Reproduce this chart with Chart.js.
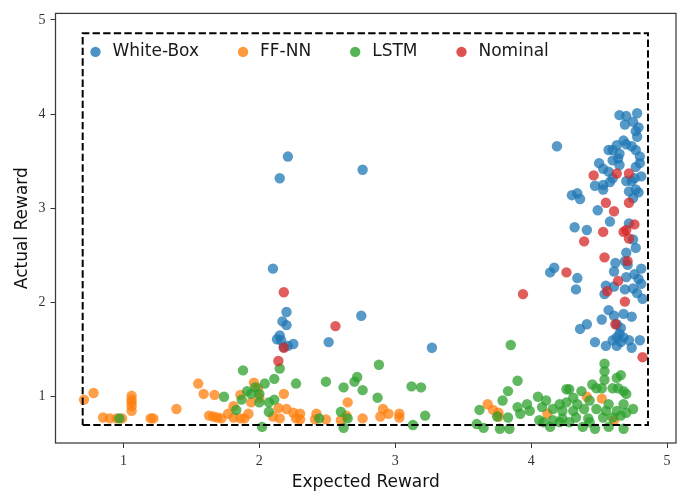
<!DOCTYPE html>
<html><head><meta charset="utf-8">
<script src="https://cdn.jsdelivr.net/npm/chart.js@4.4.1/dist/chart.umd.min.js"></script>
<style>html,body{margin:0;padding:0;background:#fff}#wrap{width:694px;height:495px}</style>
</head><body><div id="wrap"><canvas id="c" width="694" height="495"></canvas></div>
<script>
// ---- data (Expected Reward, Actual Reward) ----
const seriesNames = ['White-Box', 'FF-NN', 'LSTM', 'Nominal'];
const xTickValues = [1, 2, 3, 4, 5];
const yTickValues = [1, 2, 3, 4, 5];
const regionBounds = [0.70, 4.86];

const whiteBox = [
[2.21,3.55],[2.15,3.32],[2.10,2.36],[2.20,1.90],[2.17,1.80],[2.20,1.76],[2.15,1.65],[2.13,1.61],[2.16,1.60],[2.21,1.54],[2.25,1.56],[2.18,1.53],
[2.76,3.41],[2.51,1.58],[3.27,1.52],[2.75,1.86],[4.19,3.66],[4.14,2.32],[4.17,2.37],
[4.65,3.99],[4.70,3.98],[4.78,4.01],[4.69,3.89],[4.75,3.92],[4.77,3.82],[4.79,3.86],[4.78,3.76],[4.68,3.72],[4.70,3.68],[4.63,3.67],[4.60,3.62],[4.57,3.62],[4.74,3.66],[4.77,3.62],[4.65,3.58],[4.64,3.53],[4.60,3.51],[4.80,3.55],[4.80,3.48],[4.77,3.44],[4.50,3.48],[4.53,3.42],[4.57,3.39],[4.65,3.46],[4.60,3.32],[4.58,3.28],[4.53,3.25],[4.47,3.24],[4.53,3.20],[4.70,3.29],[4.74,3.29],[4.76,3.32],[4.81,3.34],[4.77,3.20],[4.79,3.17],[4.72,3.18],[4.75,3.11],[4.30,3.14],[4.34,3.16],[4.36,3.10],[4.49,2.98],[4.58,2.86],[4.32,2.80],[4.41,2.77],[4.72,2.84],
[4.75,2.67],[4.77,2.58],[4.70,2.53],[4.69,2.44],[4.62,2.42],[4.61,2.33],[4.71,2.40],[4.81,2.36],[4.76,2.30],[4.79,2.25],[4.81,2.20],[4.70,2.27],[4.34,2.26],[4.33,2.14],[4.55,2.18],[4.61,2.17],[4.69,2.14],[4.75,2.15],[4.78,2.10],[4.82,2.04],[4.54,2.09],[4.57,1.92],[4.61,1.86],[4.68,1.88],[4.74,1.85],[4.52,1.82],[4.41,1.77],[4.36,1.72],[4.63,1.77],[4.66,1.73],[4.65,1.67],[4.68,1.63],[4.63,1.63],[4.60,1.60],[4.66,1.58],[4.72,1.60],[4.80,1.60],[4.47,1.58],[4.55,1.54],[4.63,1.54],[4.74,1.52]
];

const ffnn = [
[0.71,0.97],[0.78,1.04],[0.85,0.78],[0.90,0.77],[0.95,0.77],[0.99,0.77],[1.06,1.01],[1.06,0.97],[1.06,0.94],[1.06,0.90],[1.06,0.85],[1.20,0.77],[1.22,0.77],[1.39,0.87],[1.55,1.14],[1.59,1.03],[1.67,1.02],[1.63,0.80],[1.66,0.79],[1.69,0.78],[1.72,0.77],[1.77,0.82],[1.81,0.90],[1.81,0.78],[1.86,1.02],[1.86,0.77],[1.89,0.77],[1.92,0.82],[1.94,0.94],[1.96,1.15],[1.99,1.09],[2.00,0.99],[2.10,0.79],[2.15,0.77],[2.14,0.88],[2.18,1.03],[2.20,0.87],[2.25,0.83],[2.27,0.77],[2.30,0.82],[2.30,0.76],[2.41,0.76],[2.42,0.82],[2.49,0.76],[2.60,0.75],[2.64,0.80],[2.65,0.94],[2.76,0.77],[2.89,0.79],[2.91,0.87],[2.95,0.82],[3.03,0.82],[3.03,0.78],[3.68,0.92],[3.72,0.86],[3.76,0.83],[3.76,0.79],[4.12,0.82],[4.41,1.00],[4.52,0.98],[4.61,0.75]
];

const lstm = [
[0.97,0.77],[1.74,1.00],[1.83,0.86],[1.87,0.97],[1.88,1.28],[1.91,1.06],[1.94,1.03],[1.97,1.10],[2.00,1.03],[2.04,1.14],[2.00,0.94],[2.07,0.94],[2.11,0.97],[2.07,0.84],[2.11,1.19],[2.15,1.30],[2.27,1.14],[2.02,0.68],[2.44,0.77],[2.49,1.16],[2.62,1.10],[2.70,1.16],[2.72,1.21],[2.76,1.07],[2.88,1.34],[2.87,0.99],[3.12,1.11],[3.19,1.10],[3.22,0.80],[3.13,0.70],[2.60,0.84],[2.65,0.77],[2.62,0.67],
[3.85,1.55],[4.54,1.35],[4.54,1.27],[4.66,1.23],[4.63,1.20],[4.54,1.18],[4.45,1.13],[4.52,1.09],[4.48,1.09],[4.60,1.09],[4.64,1.09],[4.68,1.06],[4.70,1.03],[4.28,1.08],[4.26,1.08],[4.37,1.06],[4.31,0.99],[4.21,0.92],[4.26,0.94],[4.34,0.92],[4.43,0.96],[4.57,0.92],[4.68,0.92],[4.75,0.87],[4.11,0.96],[4.05,1.00],[3.97,0.92],[3.90,0.89],[3.99,0.85],[4.08,0.89],[4.16,0.87],[4.23,0.85],[4.31,0.85],[4.39,0.87],[4.48,0.87],[4.55,0.85],[4.63,0.85],[4.70,0.83],[3.92,0.82],[3.83,0.78],[3.79,0.96],[3.83,1.06],[3.90,1.17],[3.62,0.86],[3.75,0.79],[4.16,0.75],[4.23,0.77],[4.33,0.78],[4.42,0.77],[4.53,0.78],[4.60,0.78],[4.66,0.80],[4.06,0.75],[4.14,0.68],[4.21,0.73],[4.28,0.73],[4.38,0.68],[4.43,0.73],[4.47,0.66],[4.57,0.68],[4.68,0.66],[3.77,0.66],[3.84,0.66],[3.60,0.71],[3.65,0.67],[4.09,0.73]
];

const nominal = [
[2.18,2.11],[2.18,1.52],[2.14,1.38],[2.56,1.75],[3.94,2.09],[4.26,2.32],[4.46,3.35],[4.63,3.37],[4.72,3.37],[4.55,3.06],[4.72,3.06],[4.61,2.97],[4.76,2.83],[4.53,2.75],[4.68,2.75],[4.70,2.77],[4.39,2.65],[4.72,2.68],[4.54,2.48],[4.71,2.44],[4.64,2.23],[4.56,2.12],[4.69,2.01],[4.62,1.77],[4.82,1.42]
];

// ---- styling ----
const colors = ['#1f77b4', '#ff7f0e', '#2ca02c', '#d62728'];
function rgba(hex, a) {
  const n = parseInt(hex.slice(1), 16);
  return `rgba(${(n>>16)&255},${(n>>8)&255},${n&255},${a})`;
}
const toPts = arr => arr.map(p => ({x: p[0], y: p[1]}));
const allSeries = [whiteBox, ffnn, lstm, nominal];

const datasets = allSeries.map((s, i) => ({
  label: seriesNames[i],
  data: toPts(s),
  backgroundColor: rgba(colors[i], 0.75),
  borderWidth: 0,
  pointRadius: 5.2,
  pointHoverRadius: 5.2,
  order: 4 - i
}));
const lo = regionBounds[0], hi = regionBounds[1];
datasets.push({
  label: '_region',
  data: [{x:lo,y:lo},{x:hi,y:lo},{x:hi,y:hi},{x:lo,y:hi},{x:lo,y:lo}],
  showLine: true,
  borderColor: '#000',
  borderWidth: 2,
  borderDash: [7.4, 3.2],
  pointRadius: 0,
  fill: false,
  order: 0
});

const frameAndLegend = {
  id: 'frameAndLegend',
  afterDraw(chart) {
    const {ctx, chartArea: a} = chart;
    ctx.save();
    ctx.strokeStyle = '#3a3a3a';
    ctx.lineWidth = 1.25;
    ctx.strokeRect(a.left, a.top, a.right - a.left, a.bottom - a.top);
    // legend
    ctx.font = '17px "DejaVu Sans"';
    ctx.textBaseline = 'middle';
    ctx.textAlign = 'left';
    let x = a.left + 40;
    const y = a.top + 38.5;
    for (let i = 0; i < seriesNames.length; i++) {
      ctx.fillStyle = rgba(colors[i], 0.8);
      ctx.beginPath();
      ctx.arc(x, y, 5.2, 0, Math.PI * 2);
      ctx.fill();
      ctx.fillStyle = '#1a1a1a';
      ctx.fillText(seriesNames[i], x + 17, y);
      x += 17 + ctx.measureText(seriesNames[i]).width + 44;
    }
    ctx.restore();
  }
};

const tickFont = {family: '"Liberation Serif"', size: 14};
const titleFont = {family: '"DejaVu Sans"', size: 17};

new Chart(document.getElementById('c'), {
  type: 'scatter',
  data: {datasets},
  options: {
    responsive: false,
    animation: false,
    devicePixelRatio: 1,
    layout: {padding: {left: 0, right: 18, top: 3.5, bottom: 0}},
    plugins: {legend: {display: false}, tooltip: {enabled: false}},
    scales: {
      x: {
        type: 'linear', min: 0.5, max: 5.066,
        afterBuildTicks: s => { s.ticks = xTickValues.map(v => ({value: v})); },
        afterFit: s => { s.height = 52; },
        ticks: {font: tickFont, color: '#333', padding: 5, callback: v => String(v)},
        grid: {display: true, drawOnChartArea: false, drawTicks: true, tickLength: 5, color: '#333', lineWidth: 1},
        border: {display: false},
        title: {display: true, text: 'Expected Reward', font: titleFont, color: '#111', padding: {top: 0, bottom: 2}}
      },
      y: {
        type: 'linear', min: 0.509, max: 5.07,
        afterBuildTicks: s => { s.ticks = yTickValues.map(v => ({value: v})); },
        afterFit: s => { s.width = 55.5; },
        ticks: {font: tickFont, color: '#333', padding: 5, callback: v => String(v)},
        grid: {display: true, drawOnChartArea: false, drawTicks: true, tickLength: 5, color: '#333', lineWidth: 1},
        border: {display: false},
        title: {display: true, text: 'Actual Reward', font: titleFont, color: '#111', padding: {top: 12, bottom: 0}}
      }
    }
  },
  plugins: [frameAndLegend]
});
</script></body></html>
